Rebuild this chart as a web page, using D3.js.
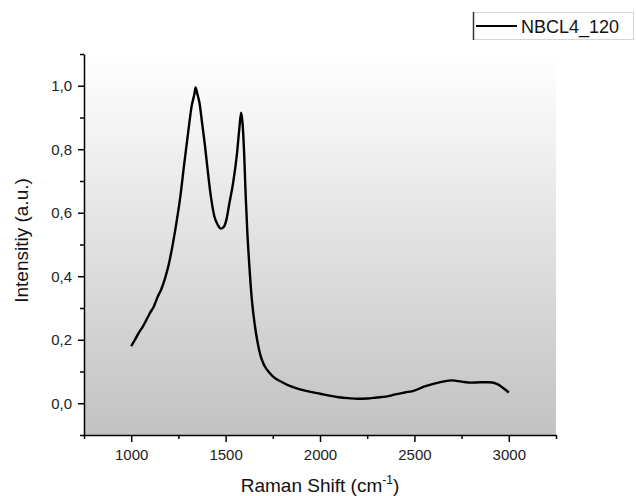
<!DOCTYPE html>
<html>
<head>
<meta charset="utf-8">
<script src="https://cdn.jsdelivr.net/npm/d3@7"></script>
<style>
  body { margin: 0; background: #fff; }
  svg { font-family: "Liberation Sans", Arial, sans-serif; }
</style>
</head>
<body>
<div id="chart"></div>
<script>
// Raman spectrum
const shift = [1000, 1020, 1040, 1060, 1080, 1100, 1120, 1140, 1160, 1180, 1200, 1220, 1240, 1260, 1280,
  1300, 1320, 1335, 1341, 1350, 1362, 1375, 1390, 1405, 1420, 1440, 1460, 1475, 1490, 1505, 1520,
  1540, 1560, 1572, 1582, 1590, 1598, 1606, 1615, 1625, 1640, 1655, 1670, 1685, 1700, 1720, 1750,
  1800, 1850, 1900, 1950, 2000, 2050, 2100, 2150, 2200, 2250, 2300, 2350, 2400, 2450, 2500, 2550,
  2600, 2650, 2700, 2750, 2800, 2850, 2900, 2940, 2970, 3000];
const intensity = [0.180, 0.200, 0.222, 0.240, 0.262, 0.285, 0.305, 0.335, 0.360, 0.395, 0.440, 0.500, 0.570, 0.650, 0.750,
  0.845, 0.935, 0.975, 0.995, 0.975, 0.945, 0.885, 0.815, 0.735, 0.660, 0.590, 0.560, 0.550, 0.555, 0.580, 0.630,
  0.695, 0.785, 0.860, 0.915, 0.880, 0.790, 0.660, 0.540, 0.440, 0.320, 0.245, 0.190, 0.150, 0.125, 0.105, 0.085,
  0.066, 0.052, 0.043, 0.036, 0.030, 0.024, 0.019, 0.016, 0.014, 0.015, 0.018, 0.021, 0.028, 0.034, 0.040, 0.052,
  0.061, 0.068, 0.072, 0.068, 0.065, 0.066, 0.066, 0.060, 0.048, 0.034];

const xMajor = [1000, 1500, 2000, 2500, 3000];
const xMinor = [750, 1250, 1750, 2250, 2750, 3250];
const yMajor = [0, 0.2, 0.4, 0.6, 0.8, 1.0];
const yMinor = [-0.1, 0.1, 0.3, 0.5, 0.7, 0.9, 1.1];
const seriesName = "NBCL4_120";

const data = shift.map((s, i) => ({ x: s, y: intensity[i] }));

const W = 636, H = 496;
const margin = { left: 84, right: 556, top: 54, bottom: 435 };

const svg = d3.select("#chart").append("svg")
  .attr("width", W).attr("height", H);

const x = d3.scaleLinear().domain([750, 3250]).range([margin.left, margin.right]);
const y = d3.scaleLinear().domain([-0.1, 1.1]).range([margin.bottom, margin.top]);

// background gradient of the plot area
const grad = svg.append("defs").append("linearGradient")
  .attr("id", "bg").attr("x1", 0).attr("y1", 0).attr("x2", 0).attr("y2", 1);
grad.append("stop").attr("offset", "0%").attr("stop-color", "#ffffff");
grad.append("stop").attr("offset", "100%").attr("stop-color", "#c2c2c2");

svg.append("rect")
  .attr("x", margin.left).attr("y", margin.top)
  .attr("width", margin.right - margin.left).attr("height", margin.bottom - margin.top)
  .attr("fill", "url(#bg)");

// spectrum
svg.append("path")
  .datum(data)
  .attr("fill", "none")
  .attr("stroke", "#000")
  .attr("stroke-width", 2.4)
  .attr("stroke-linejoin", "round")
  .attr("d", d3.line().x(d => x(d.x)).y(d => y(d.y)).curve(d3.curveMonotoneX));

const comma = d => d3.format(".1f")(d).replace(".", ",");

// x axis: minor then major ticks
svg.append("g")
  .attr("transform", `translate(0,${margin.bottom})`)
  .call(d3.axisBottom(x).tickValues(xMinor).tickSize(4).tickFormat(""))
  .call(g => g.select(".domain").remove());
svg.append("g")
  .attr("class", "x-axis")
  .attr("transform", `translate(0,${margin.bottom})`)
  .call(d3.axisBottom(x).tickValues(xMajor).tickSize(7).tickSizeOuter(0).tickPadding(7).tickFormat(d3.format("d")))
  .call(g => g.selectAll("text").attr("font-size", 15).attr("fill", "#222"));

// y axis
svg.append("g")
  .attr("transform", `translate(${margin.left},0)`)
  .call(d3.axisLeft(y).tickValues(yMinor).tickSize(4).tickFormat(""))
  .call(g => g.select(".domain").remove());
svg.append("g")
  .attr("class", "y-axis")
  .attr("transform", `translate(${margin.left},0)`)
  .call(d3.axisLeft(y).tickValues(yMajor).tickSize(6).tickSizeOuter(0).tickPadding(6).tickFormat(comma))
  .call(g => g.selectAll("text").attr("font-size", 15).attr("fill", "#222"));

svg.selectAll(".domain, .tick line").attr("stroke", "#000").attr("stroke-width", 1.5);

// axis titles
const xt = svg.append("text")
  .attr("x", (margin.left + margin.right) / 2).attr("y", 492)
  .attr("text-anchor", "middle")
  .attr("font-size", 19)
  .attr("fill", "#111");
xt.append("tspan").text("Raman Shift (cm");
xt.append("tspan").attr("dy", -8).attr("font-size", 12).text("-1");
xt.append("tspan").attr("dy", 8).text(")");

svg.append("text")
  .attr("transform", `translate(28,${(margin.top + margin.bottom) / 2 - 4}) rotate(-90)`)
  .attr("text-anchor", "middle")
  .attr("font-size", 19)
  .attr("fill", "#111")
  .text("Intensitiy (a.u.)");

// legend
const lg = svg.append("g");
lg.append("rect")
  .attr("x", 473.5).attr("y", 12.5).attr("width", 160).attr("height", 27)
  .attr("fill", "#fff").attr("stroke", "#d6d6d6");
lg.append("line")
  .attr("x1", 473.5).attr("x2", 473.5).attr("y1", 12).attr("y2", 40)
  .attr("stroke", "#333").attr("stroke-width", 1.5);
lg.append("line")
  .attr("x1", 476).attr("x2", 517).attr("y1", 26).attr("y2", 26)
  .attr("stroke", "#000").attr("stroke-width", 2);
lg.append("text")
  .attr("x", 521).attr("y", 32.5)
  .attr("font-size", 18)
  .attr("fill", "#111")
  .text(seriesName);
</script>
</body>
</html>
